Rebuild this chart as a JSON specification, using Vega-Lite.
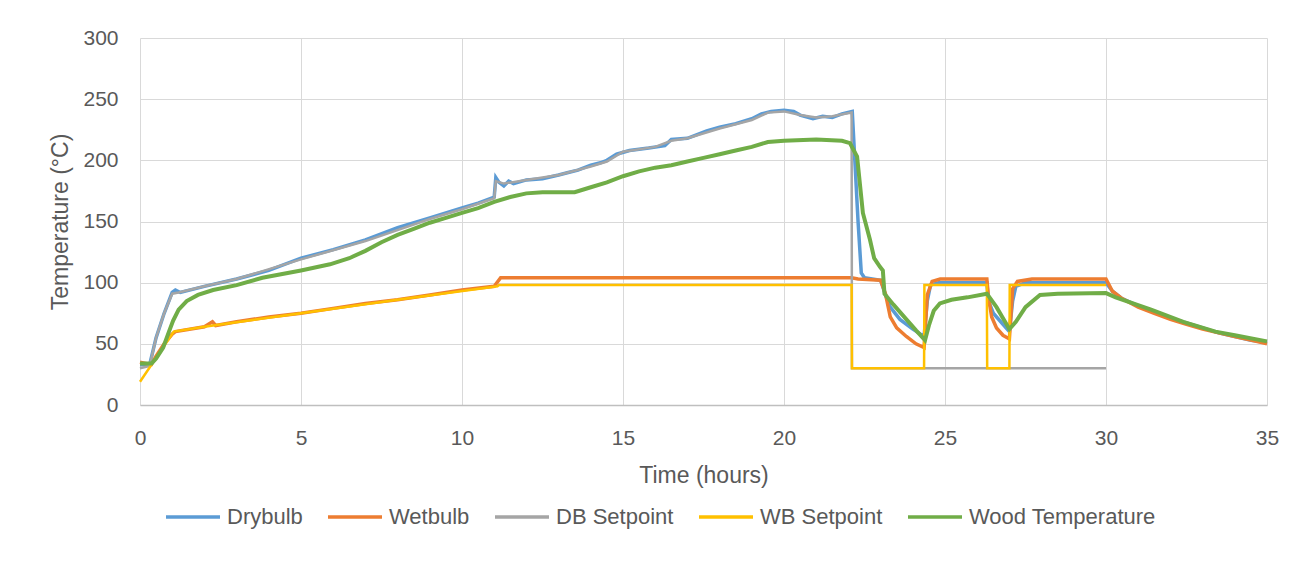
{
  "$schema": "https://vega.github.io/schema/vega-lite/v6.json",
  "width": 1127,
  "height": 367,
  "autosize": {"type": "none"},
  "padding": {"left": 140, "top": 38, "right": 42, "bottom": 176},
  "background": "white",
  "config": {
    "font": "Liberation Sans",
    "view": {"stroke": null},
    "axis": {"labelColor": "#595959", "titleColor": "#595959", "labelFont": "Liberation Sans", "titleFont": "Liberation Sans", "labelFontSize": 21, "titleFontSize": 23, "titleFontWeight": "normal", "gridColor": "#D9D9D9", "gridWidth": 1, "ticks": false}
  },
  "datasets": {
    "d": [
      {"s":"Drybulb","t":0,"v":33},{"s":"Drybulb","t":0.3,"v":33},{"s":"Drybulb","t":0.5,"v":55},{"s":"Drybulb","t":0.75,"v":75},{"s":"Drybulb","t":1.0,"v":92},{"s":"Drybulb","t":1.1,"v":94},{"s":"Drybulb","t":1.25,"v":92},{"s":"Drybulb","t":2,"v":97},{"s":"Drybulb","t":3,"v":103},{"s":"Drybulb","t":4,"v":110},{"s":"Drybulb","t":5,"v":120},{"s":"Drybulb","t":6,"v":127},{"s":"Drybulb","t":7,"v":135},{"s":"Drybulb","t":8,"v":145},{"s":"Drybulb","t":9,"v":153},{"s":"Drybulb","t":10,"v":161},{"s":"Drybulb","t":10.5,"v":165},{"s":"Drybulb","t":11.0,"v":170},{"s":"Drybulb","t":11.05,"v":186},{"s":"Drybulb","t":11.15,"v":182},{"s":"Drybulb","t":11.3,"v":179},{"s":"Drybulb","t":11.45,"v":183},{"s":"Drybulb","t":11.6,"v":181},{"s":"Drybulb","t":12,"v":184},{"s":"Drybulb","t":12.5,"v":185},{"s":"Drybulb","t":13,"v":188},{"s":"Drybulb","t":13.3,"v":190},{"s":"Drybulb","t":13.6,"v":192},{"s":"Drybulb","t":14,"v":196},{"s":"Drybulb","t":14.3,"v":198},{"s":"Drybulb","t":14.5,"v":200},{"s":"Drybulb","t":14.8,"v":205},{"s":"Drybulb","t":15.2,"v":208},{"s":"Drybulb","t":15.8,"v":210},{"s":"Drybulb","t":16.3,"v":212},{"s":"Drybulb","t":16.5,"v":217},{"s":"Drybulb","t":17,"v":218},{"s":"Drybulb","t":17.3,"v":221},{"s":"Drybulb","t":17.6,"v":224},{"s":"Drybulb","t":18,"v":227},{"s":"Drybulb","t":18.5,"v":230},{"s":"Drybulb","t":19,"v":234},{"s":"Drybulb","t":19.3,"v":238},{"s":"Drybulb","t":19.6,"v":240},{"s":"Drybulb","t":20,"v":241},{"s":"Drybulb","t":20.3,"v":240},{"s":"Drybulb","t":20.5,"v":237},{"s":"Drybulb","t":20.9,"v":234},{"s":"Drybulb","t":21.2,"v":236},{"s":"Drybulb","t":21.5,"v":235},{"s":"Drybulb","t":21.8,"v":238},{"s":"Drybulb","t":22.12,"v":240},{"s":"Drybulb","t":22.2,"v":200},{"s":"Drybulb","t":22.3,"v":150},{"s":"Drybulb","t":22.4,"v":108},{"s":"Drybulb","t":22.5,"v":104},{"s":"Drybulb","t":23.0,"v":102},{"s":"Drybulb","t":23.15,"v":90},{"s":"Drybulb","t":23.3,"v":80},{"s":"Drybulb","t":23.6,"v":70},{"s":"Drybulb","t":24.0,"v":62},{"s":"Drybulb","t":24.35,"v":56},{"s":"Drybulb","t":24.45,"v":85},{"s":"Drybulb","t":24.55,"v":98},{"s":"Drybulb","t":24.8,"v":100},{"s":"Drybulb","t":26.3,"v":100},{"s":"Drybulb","t":26.35,"v":85},{"s":"Drybulb","t":26.5,"v":75},{"s":"Drybulb","t":26.8,"v":66},{"s":"Drybulb","t":27.0,"v":60},{"s":"Drybulb","t":27.1,"v":85},{"s":"Drybulb","t":27.2,"v":97},{"s":"Drybulb","t":27.5,"v":100},{"s":"Drybulb","t":30.0,"v":100},{"s":"Drybulb","t":30.2,"v":93},{"s":"Drybulb","t":30.5,"v":87},{"s":"Drybulb","t":31,"v":81},{"s":"Drybulb","t":31.5,"v":76},{"s":"Drybulb","t":32,"v":71},{"s":"Drybulb","t":32.5,"v":67},{"s":"Drybulb","t":33,"v":63},{"s":"Drybulb","t":33.5,"v":59},{"s":"Drybulb","t":34,"v":56},{"s":"Drybulb","t":34.5,"v":53},{"s":"Drybulb","t":35,"v":51},

      {"s":"Wetbulb","t":0,"v":35},{"s":"Wetbulb","t":0.35,"v":33},{"s":"Wetbulb","t":0.5,"v":40},{"s":"Wetbulb","t":0.75,"v":50},{"s":"Wetbulb","t":1.0,"v":58},{"s":"Wetbulb","t":1.1,"v":60},{"s":"Wetbulb","t":2,"v":64},{"s":"Wetbulb","t":2.25,"v":68},{"s":"Wetbulb","t":2.35,"v":65},{"s":"Wetbulb","t":3,"v":68},{"s":"Wetbulb","t":4,"v":72},{"s":"Wetbulb","t":5,"v":75},{"s":"Wetbulb","t":6,"v":79},{"s":"Wetbulb","t":7,"v":83},{"s":"Wetbulb","t":8,"v":86},{"s":"Wetbulb","t":9,"v":90},{"s":"Wetbulb","t":10,"v":94},{"s":"Wetbulb","t":11,"v":97},{"s":"Wetbulb","t":11.2,"v":104},{"s":"Wetbulb","t":22.1,"v":104},{"s":"Wetbulb","t":22.3,"v":103},{"s":"Wetbulb","t":23.0,"v":102},{"s":"Wetbulb","t":23.15,"v":91},{"s":"Wetbulb","t":23.3,"v":72},{"s":"Wetbulb","t":23.5,"v":63},{"s":"Wetbulb","t":23.8,"v":56},{"s":"Wetbulb","t":24.1,"v":50},{"s":"Wetbulb","t":24.35,"v":47},{"s":"Wetbulb","t":24.45,"v":90},{"s":"Wetbulb","t":24.6,"v":101},{"s":"Wetbulb","t":24.85,"v":103},{"s":"Wetbulb","t":26.3,"v":103},{"s":"Wetbulb","t":26.35,"v":88},{"s":"Wetbulb","t":26.45,"v":72},{"s":"Wetbulb","t":26.6,"v":63},{"s":"Wetbulb","t":26.8,"v":57},{"s":"Wetbulb","t":27.0,"v":54},{"s":"Wetbulb","t":27.1,"v":95},{"s":"Wetbulb","t":27.25,"v":101},{"s":"Wetbulb","t":27.7,"v":103},{"s":"Wetbulb","t":30.0,"v":103},{"s":"Wetbulb","t":30.2,"v":93},{"s":"Wetbulb","t":30.5,"v":87},{"s":"Wetbulb","t":31,"v":80},{"s":"Wetbulb","t":31.5,"v":75},{"s":"Wetbulb","t":32,"v":70},{"s":"Wetbulb","t":32.5,"v":66},{"s":"Wetbulb","t":33,"v":62},{"s":"Wetbulb","t":33.5,"v":59},{"s":"Wetbulb","t":34,"v":56},{"s":"Wetbulb","t":34.5,"v":53},{"s":"Wetbulb","t":35,"v":50},

      {"s":"DB Setpoint","t":0,"v":30},{"s":"DB Setpoint","t":0.3,"v":32},{"s":"DB Setpoint","t":0.5,"v":55},{"s":"DB Setpoint","t":0.75,"v":75},{"s":"DB Setpoint","t":1.0,"v":91},{"s":"DB Setpoint","t":1.2,"v":92},{"s":"DB Setpoint","t":2,"v":97},{"s":"DB Setpoint","t":3,"v":103},{"s":"DB Setpoint","t":5,"v":119},{"s":"DB Setpoint","t":7,"v":134},{"s":"DB Setpoint","t":9,"v":152},{"s":"DB Setpoint","t":10,"v":160},{"s":"DB Setpoint","t":11.0,"v":169},{"s":"DB Setpoint","t":11.05,"v":183},{"s":"DB Setpoint","t":11.3,"v":181},{"s":"DB Setpoint","t":12,"v":184},{"s":"DB Setpoint","t":13,"v":188},{"s":"DB Setpoint","t":14,"v":195},{"s":"DB Setpoint","t":14.5,"v":199},{"s":"DB Setpoint","t":15,"v":207},{"s":"DB Setpoint","t":16,"v":211},{"s":"DB Setpoint","t":16.5,"v":216},{"s":"DB Setpoint","t":17,"v":218},{"s":"DB Setpoint","t":18,"v":226},{"s":"DB Setpoint","t":19,"v":233},{"s":"DB Setpoint","t":19.5,"v":239},{"s":"DB Setpoint","t":20,"v":240},{"s":"DB Setpoint","t":20.5,"v":237},{"s":"DB Setpoint","t":21,"v":235},{"s":"DB Setpoint","t":21.5,"v":236},{"s":"DB Setpoint","t":22.1,"v":239},{"s":"DB Setpoint","t":22.11,"v":30},{"s":"DB Setpoint","t":30.0,"v":30},

      {"s":"WB Setpoint","t":0,"v":19},{"s":"WB Setpoint","t":1.05,"v":60},{"s":"WB Setpoint","t":2,"v":64},{"s":"WB Setpoint","t":5,"v":75},{"s":"WB Setpoint","t":8,"v":86},{"s":"WB Setpoint","t":11.1,"v":97},{"s":"WB Setpoint","t":11.15,"v":98},{"s":"WB Setpoint","t":22.1,"v":98},{"s":"WB Setpoint","t":22.11,"v":30},{"s":"WB Setpoint","t":24.35,"v":30},{"s":"WB Setpoint","t":24.36,"v":98},{"s":"WB Setpoint","t":26.3,"v":98},{"s":"WB Setpoint","t":26.31,"v":30},{"s":"WB Setpoint","t":27.0,"v":30},{"s":"WB Setpoint","t":27.01,"v":98},{"s":"WB Setpoint","t":30.0,"v":98},

      {"s":"Wood Temperature","t":0,"v":34},{"s":"Wood Temperature","t":0.36,"v":34},{"s":"Wood Temperature","t":0.5,"v":38},{"s":"Wood Temperature","t":0.72,"v":47},{"s":"Wood Temperature","t":0.9,"v":60},{"s":"Wood Temperature","t":1.03,"v":69},{"s":"Wood Temperature","t":1.2,"v":78},{"s":"Wood Temperature","t":1.45,"v":85},{"s":"Wood Temperature","t":1.8,"v":90},{"s":"Wood Temperature","t":2.27,"v":94},{"s":"Wood Temperature","t":3,"v":98},{"s":"Wood Temperature","t":3.8,"v":104},{"s":"Wood Temperature","t":5,"v":110},{"s":"Wood Temperature","t":5.9,"v":115},{"s":"Wood Temperature","t":6.5,"v":120},{"s":"Wood Temperature","t":7,"v":126},{"s":"Wood Temperature","t":7.5,"v":133},{"s":"Wood Temperature","t":8,"v":139},{"s":"Wood Temperature","t":8.5,"v":144},{"s":"Wood Temperature","t":9,"v":149},{"s":"Wood Temperature","t":9.5,"v":153},{"s":"Wood Temperature","t":10,"v":157},{"s":"Wood Temperature","t":10.5,"v":161},{"s":"Wood Temperature","t":11,"v":166},{"s":"Wood Temperature","t":11.5,"v":170},{"s":"Wood Temperature","t":12,"v":173},{"s":"Wood Temperature","t":12.5,"v":174},{"s":"Wood Temperature","t":13.5,"v":174},{"s":"Wood Temperature","t":14,"v":178},{"s":"Wood Temperature","t":14.5,"v":182},{"s":"Wood Temperature","t":15,"v":187},{"s":"Wood Temperature","t":15.5,"v":191},{"s":"Wood Temperature","t":16,"v":194},{"s":"Wood Temperature","t":16.5,"v":196},{"s":"Wood Temperature","t":17,"v":199},{"s":"Wood Temperature","t":17.5,"v":202},{"s":"Wood Temperature","t":18,"v":205},{"s":"Wood Temperature","t":18.5,"v":208},{"s":"Wood Temperature","t":19,"v":211},{"s":"Wood Temperature","t":19.5,"v":215},{"s":"Wood Temperature","t":20,"v":216},{"s":"Wood Temperature","t":21,"v":217},{"s":"Wood Temperature","t":21.8,"v":216},{"s":"Wood Temperature","t":22.05,"v":214},{"s":"Wood Temperature","t":22.27,"v":203},{"s":"Wood Temperature","t":22.45,"v":157},{"s":"Wood Temperature","t":22.67,"v":135},{"s":"Wood Temperature","t":22.8,"v":120},{"s":"Wood Temperature","t":22.98,"v":113},{"s":"Wood Temperature","t":23.07,"v":110},{"s":"Wood Temperature","t":23.12,"v":91},{"s":"Wood Temperature","t":23.4,"v":82},{"s":"Wood Temperature","t":23.8,"v":70},{"s":"Wood Temperature","t":24.1,"v":61},{"s":"Wood Temperature","t":24.38,"v":53},{"s":"Wood Temperature","t":24.5,"v":65},{"s":"Wood Temperature","t":24.65,"v":77},{"s":"Wood Temperature","t":24.84,"v":83},{"s":"Wood Temperature","t":25.2,"v":86},{"s":"Wood Temperature","t":25.7,"v":88},{"s":"Wood Temperature","t":26.3,"v":91},{"s":"Wood Temperature","t":26.6,"v":80},{"s":"Wood Temperature","t":27.0,"v":62},{"s":"Wood Temperature","t":27.2,"v":68},{"s":"Wood Temperature","t":27.5,"v":80},{"s":"Wood Temperature","t":27.95,"v":90},{"s":"Wood Temperature","t":28.5,"v":91},{"s":"Wood Temperature","t":30.0,"v":91.5},{"s":"Wood Temperature","t":30.3,"v":88},{"s":"Wood Temperature","t":31.4,"v":78},{"s":"Wood Temperature","t":32.4,"v":68},{"s":"Wood Temperature","t":33.4,"v":60},{"s":"Wood Temperature","t":34,"v":57},{"s":"Wood Temperature","t":35,"v":52}
    ]
  },
  "data": {"name": "d"},
  "encoding": {
    "x": {"field": "t", "type": "quantitative", "scale": {"domain": [0, 35], "nice": false, "zero": false},
      "axis": {"title": "Time (hours)", "values": [0,5,10,15,20,25,30,35], "labelPadding": 22, "titlePadding": 16, "domainColor": "#BFBFBF", "domainWidth": 1.5, "labelFlush": false}},
    "y": {"field": "v", "type": "quantitative", "scale": {"domain": [0, 300], "nice": false},
      "axis": {"title": "Temperature (°C)", "values": [0,50,100,150,200,250,300], "labelPadding": 22, "titlePadding": 10, "domain": false}},
    "color": {"field": "s", "type": "nominal",
      "scale": {"domain": ["Drybulb", "Wetbulb", "DB Setpoint", "WB Setpoint", "Wood Temperature"], "range": ["#5B9BD5", "#ED7D31", "#A5A5A5", "#FFC000", "#70AD47"]},
      "legend": {"title": null, "orient": "none", "direction": "horizontal", "legendX": 24, "legendY": 450, "symbolType": "stroke", "symbolSize": 2916, "symbolStrokeWidth": 3.5, "labelFontSize": 22, "labelColor": "#595959", "labelFont": "Liberation Sans", "labelOffset": 5, "labelLimit": 0, "columnPadding": 18}}
  },
  "layer": [
    {"transform": [{"filter": "datum.s === 'Drybulb'"}], "mark": {"type": "line", "strokeWidth": 3.5}},
    {"transform": [{"filter": "datum.s === 'Wetbulb'"}], "mark": {"type": "line", "strokeWidth": 3.5}},
    {"transform": [{"filter": "datum.s === 'DB Setpoint'"}], "mark": {"type": "line", "strokeWidth": 2.5}},
    {"transform": [{"filter": "datum.s === 'WB Setpoint'"}], "mark": {"type": "line", "strokeWidth": 2.5}},
    {"transform": [{"filter": "datum.s === 'Wood Temperature'"}], "mark": {"type": "line", "strokeWidth": 4}}
  ]
}
